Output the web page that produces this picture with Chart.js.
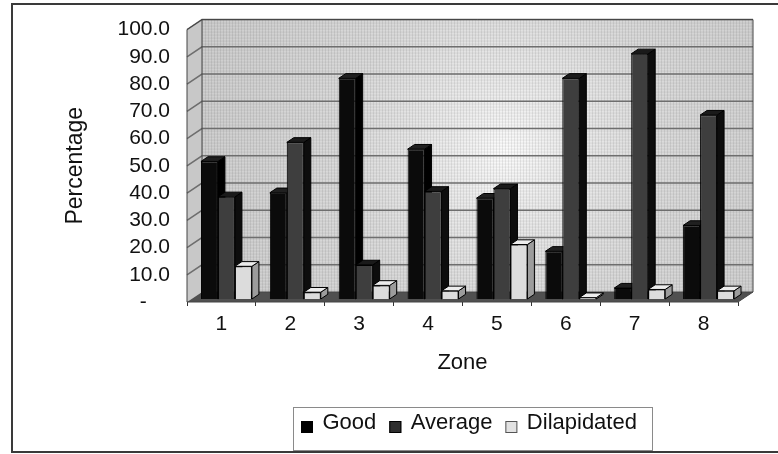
<!DOCTYPE html>
<html>
<head>
<meta charset="utf-8">
<script src="https://cdn.jsdelivr.net/npm/chart.js@4.4.1/dist/chart.umd.min.js"></script>
<style>
  html, body { margin: 0; padding: 0; background: #ffffff; }
  #wrap { width: 778px; height: 454px; }
</style>
</head>
<body>
<div id="wrap"><canvas id="c" width="778" height="454"></canvas></div>
<script>
// Housing condition by zone (% of buildings)
const zones = ['1', '2', '3', '4', '5', '6', '7', '8'];
const good = [50.5, 39, 81, 55, 37, 17.5, 4, 27];
const average = [37.5, 57.5, 12.5, 39.5, 40.5, 81, 90, 67.5];
const dilapidated = [12, 2.5, 5, 3, 20, 0.5, 3.5, 3];
const yTickLabels = ['-', '10.0', '20.0', '30.0', '40.0', '50.0', '60.0', '70.0', '80.0', '90.0', '100.0'];
const seriesNames = ['Good', 'Average', 'Dilapidated'];

const FONT = "'Liberation Sans', Arial, Helvetica, sans-serif";
Chart.defaults.font.family = FONT;

// face shading for the pseudo-3D columns: front / right side / top
const faces = [
  { front: '#0b0b0b', side: '#000000', top: '#202020', key: '#000000' },
  { front: '#3e3e3e', side: '#0d0d0d', top: '#1a1a1a', key: '#2e2e2e' },
  { front: '#dcdcdc', side: '#9c9c9c', top: '#ededed', key: '#e2e2e2' }
];

const wallDepth = { dx: 15, dy: -10 };   // front plane -> back wall
const barShift = { dx: 5, dy: -3 };      // front plane -> column front faces
const barDepth = { dx: 7, dy: -4.7 };    // thickness of each column

function poly(ctx, pts, fill, stroke, lw) {
  ctx.beginPath();
  ctx.moveTo(pts[0][0], pts[0][1]);
  for (let i = 1; i < pts.length; i++) ctx.lineTo(pts[i][0], pts[i][1]);
  ctx.closePath();
  if (fill) { ctx.fillStyle = fill; ctx.fill(); }
  if (stroke) { ctx.strokeStyle = stroke; ctx.lineWidth = lw || 1; ctx.stroke(); }
}

const threeD = {
  id: 'threeD',
  beforeDatasetsDraw(chart) {
    const { ctx, chartArea: a, scales: { y } } = chart;
    const L = a.left, R = a.right, T = a.top, B = a.bottom;
    const dx = wallDepth.dx, dy = wallDepth.dy;

    ctx.save();
    // back wall with soft light spot
    const g = ctx.createRadialGradient(505, 150, 0, 505, 150, 320);
    g.addColorStop(0, '#fbfbfb');
    g.addColorStop(0.18, '#ececec');
    g.addColorStop(0.5, '#dadada');
    g.addColorStop(1, '#cdcdcd');
    ctx.fillStyle = g;
    ctx.fillRect(L + dx, T + dy, R - L, B - T);

    // fine mesh on the wall
    ctx.save();
    ctx.beginPath();
    ctx.rect(L + dx, T + dy, R - L, B - T);
    ctx.clip();
    ctx.strokeStyle = 'rgba(0,0,0,0.07)';
    ctx.lineWidth = 1;
    ctx.beginPath();
    for (let x = L + dx; x < R + dx; x += 3) { ctx.moveTo(x + 0.5, T + dy); ctx.lineTo(x + 0.5, B + dy); }
    for (let yy = T + dy; yy < B + dy; yy += 3) { ctx.moveTo(L + dx, yy + 0.5); ctx.lineTo(R + dx, yy + 0.5); }
    ctx.stroke();
    ctx.restore();

    // left side wall
    poly(ctx, [[L, T], [L + dx, T + dy], [L + dx, B + dy], [L, B]], '#c8c8c8');
    // floor
    poly(ctx, [[L, B], [R, B], [R + dx, B + dy], [L + dx, B + dy]], '#505050');

    // value gridlines across side wall and back wall
    ctx.strokeStyle = '#6e6e6e';
    ctx.lineWidth = 1.5;
    y.ticks.forEach(t => {
      if (t.value === 0) return;
      const py = y.getPixelForValue(t.value);
      ctx.beginPath();
      ctx.moveTo(L, py);
      ctx.lineTo(L + dx, py + dy);
      ctx.lineTo(R + dx, py + dy);
      ctx.stroke();
    });

    // outlines of walls and floor
    ctx.strokeStyle = '#444';
    ctx.lineWidth = 1;
    ctx.beginPath();
    ctx.moveTo(L, B); ctx.lineTo(L, T); ctx.lineTo(L + dx, T + dy);
    ctx.lineTo(R + dx, T + dy); ctx.lineTo(R + dx, B + dy); ctx.lineTo(R, B);
    ctx.lineTo(L, B);
    ctx.moveTo(L + dx, T + dy); ctx.lineTo(L + dx, B + dy); ctx.lineTo(R + dx, B + dy);
    ctx.stroke();
    ctx.restore();

    // sides and tops of the columns, drawn left to right; fronts come after
    ctx.save();
    ctx.translate(barShift.dx, barShift.dy);
    const metas = chart.data.datasets.map((d, i) => chart.getDatasetMeta(i));
    const n = chart.data.labels.length;
    for (let j = 0; j < n; j++) {
      metas.forEach((meta, i) => {
        const el = meta.data[j];
        if (!el) return;
        const p = el.getProps(['x', 'y', 'base', 'width'], true);
        const xl = p.x - p.width / 2, xr = p.x + p.width / 2;
        const yt = Math.min(p.y, p.base), yb = Math.max(p.y, p.base);
        const bx = barDepth.dx, by = barDepth.dy;
        poly(ctx, [[xr, yt], [xr + bx, yt + by], [xr + bx, yb + by], [xr, yb]], faces[i].side, '#000', 1);
        poly(ctx, [[xl, yt], [xr, yt], [xr + bx, yt + by], [xl + bx, yt + by]], faces[i].top, '#000', 1);
      });
    }
    // translation stays active while the column fronts are drawn
  },
  afterDatasetsDraw(chart) {
    chart.ctx.restore();
  },
  afterDraw(chart) {
    const ctx = chart.ctx;
    ctx.save();
    // legend
    const bx = 293, by = 407, bw = 359, bh = 43;
    ctx.strokeStyle = '#8a8a8a';
    ctx.lineWidth = 1;
    ctx.strokeRect(bx + 0.5, by + 0.5, bw, bh);
    ctx.font = '22px ' + FONT;
    ctx.textBaseline = 'alphabetic';
    ctx.textAlign = 'left';
    let x = 301;
    chart.data.datasets.forEach((d, i) => {
      ctx.fillStyle = faces[i].key;
      ctx.fillRect(x, 421, 12, 12);
      ctx.strokeStyle = i === 2 ? '#555' : '#000';
      ctx.strokeRect(x + 0.5, 421.5, 11, 11);
      x += 12 + 9.5;
      ctx.fillStyle = '#111';
      ctx.fillText(d.label, x, 429);
      x += ctx.measureText(d.label).width + 13;
    });

    // outer frame
    ctx.strokeStyle = '#3a3a3a';
    ctx.lineWidth = 2;
    ctx.beginPath();
    ctx.moveTo(778, 4); ctx.lineTo(12, 4); ctx.lineTo(12, 452); ctx.lineTo(778, 452);
    ctx.stroke();
    ctx.restore();
  }
};

const datasets = [good, average, dilapidated].map((vals, i) => ({
  label: seriesNames[i],
  data: vals,
  backgroundColor: faces[i].front,
  borderColor: '#000',
  borderWidth: 1
}));

new Chart(document.getElementById('c'), {
  type: 'bar',
  data: { labels: zones, datasets },
  options: {
    responsive: false,
    animation: false,
    devicePixelRatio: 1,
    layout: { padding: { left: 12, right: 40, top: 25, bottom: 78 } },
    datasets: { bar: { categoryPercentage: 0.74, barPercentage: 1, clip: false } },
    plugins: { legend: { display: false }, tooltip: { enabled: false } },
    scales: {
      x: {
        grid: { display: true, drawOnChartArea: false, drawTicks: true, tickLength: 4, offset: true, color: '#333', lineWidth: 1 },
        border: { display: false },
        ticks: { padding: 6, font: { size: 21 }, color: '#111', maxRotation: 0, autoSkip: false },
        title: { display: true, text: 'Zone', font: { size: 22 }, color: '#111', padding: 0 },
        afterFit(s) { s.height = 74; }
      },
      y: {
        min: 0, max: 100,
        grid: { display: false, drawTicks: false, tickLength: 0 },
        border: { display: false },
        ticks: {
          stepSize: 10, padding: 17, autoSkip: false, font: { size: 21 }, color: '#111',
          callback: (v, i) => (yTickLabels[i] === '-' ? '-    ' : yTickLabels[i])
        },
        title: { display: true, text: 'Percentage', font: { size: 23 }, color: '#111', padding: { top: 50, bottom: 0 } },
        afterFit(s) { s.width = 175; }
      }
    }
  },
  plugins: [threeD]
});
</script>
</body>
</html>
